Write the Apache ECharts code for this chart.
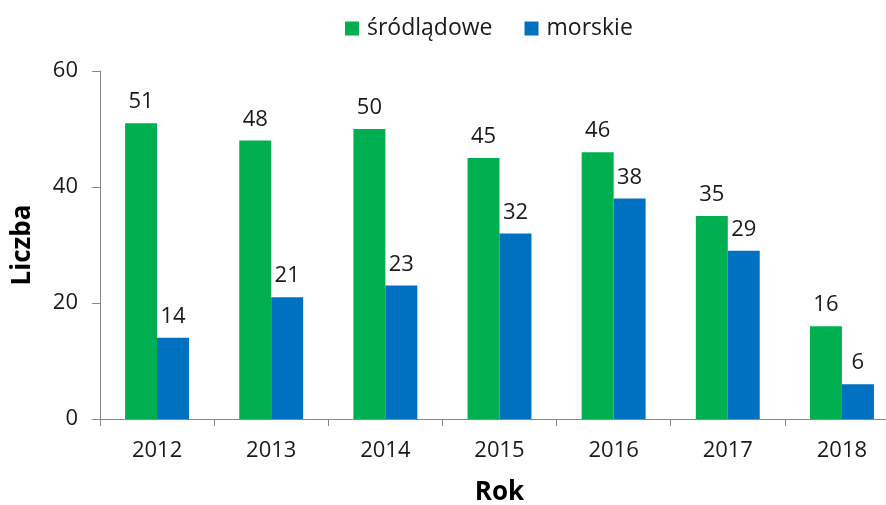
<!DOCTYPE html>
<html>
<head>
<meta charset="utf-8">
<script src="https://cdn.jsdelivr.net/npm/echarts@6/dist/echarts.min.js"></script>
<style>
  html, body { margin: 0; padding: 0; background: #fff; }
  #chart { width: 886px; height: 505px; }
</style>
</head>
<body>
<div id="chart"></div>
<script>
const years = ['2012', '2013', '2014', '2015', '2016', '2017', '2018'];
const srodladowe = [51, 48, 50, 45, 46, 35, 16];
const morskie = [14, 21, 23, 32, 38, 29, 6];
const seriesNames = ['śródlądowe', 'morskie'];
const yTicks = { min: 0, max: 60, interval: 20 };

const FONT = '"Open Sans", sans-serif';
const chart = echarts.init(document.getElementById('chart'));

const labelStyle = {
  show: true,
  position: 'top',
  distance: 10,
  fontFamily: FONT,
  fontSize: 22,
  color: '#1a1a1a'
};

chart.setOption({
  animation: false,
  textStyle: { fontFamily: FONT },
  legend: {
    top: 12,
    left: 340,
    itemWidth: 14,
    itemHeight: 14,
    itemGap: 32,
    icon: 'rect',
    textStyle: { fontFamily: FONT, fontSize: 23, color: '#1a1a1a', padding: [0, 0, 0, 3] },
    data: seriesNames
  },
  grid: { left: 100, right: -13, top: 71, bottom: 86, outerBoundsMode: 'none', containLabel: false },
  xAxis: {
    type: 'category',
    data: years,
    name: 'Rok',
    nameLocation: 'middle',
    nameGap: 61,
    nameTextStyle: { fontFamily: FONT, fontSize: 26, fontWeight: 'bold', color: '#000' },
    axisLine: { lineStyle: { color: '#888', width: 1 } },
    axisTick: { show: true, length: 7, alignWithLabel: false, lineStyle: { color: '#888' } },
    axisLabel: { margin: 21, fontFamily: FONT, fontSize: 22, color: '#1a1a1a' }
  },
  yAxis: {
    type: 'value',
    min: yTicks.min,
    max: yTicks.max,
    interval: yTicks.interval,
    name: 'Liczba',
    nameLocation: 'middle',
    nameGap: 64,
    nameTextStyle: { fontFamily: FONT, fontSize: 26, fontWeight: 'bold', color: '#000' },
    axisLine: { show: true, lineStyle: { color: '#888', width: 1 } },
    axisTick: { show: true, length: 8, lineStyle: { color: '#888' } },
    splitLine: { show: false },
    axisLabel: { margin: 22, fontFamily: FONT, fontSize: 22, color: '#1a1a1a' }
  },
  series: [
    {
      name: seriesNames[0],
      type: 'bar',
      data: srodladowe,
      barGap: '0%',
      barCategoryGap: '44%',
      itemStyle: { color: '#00B050' },
      label: labelStyle
    },
    {
      name: seriesNames[1],
      type: 'bar',
      data: morskie,
      itemStyle: { color: '#0070C0' },
      label: labelStyle
    }
  ]
});
</script>
</body>
</html>
